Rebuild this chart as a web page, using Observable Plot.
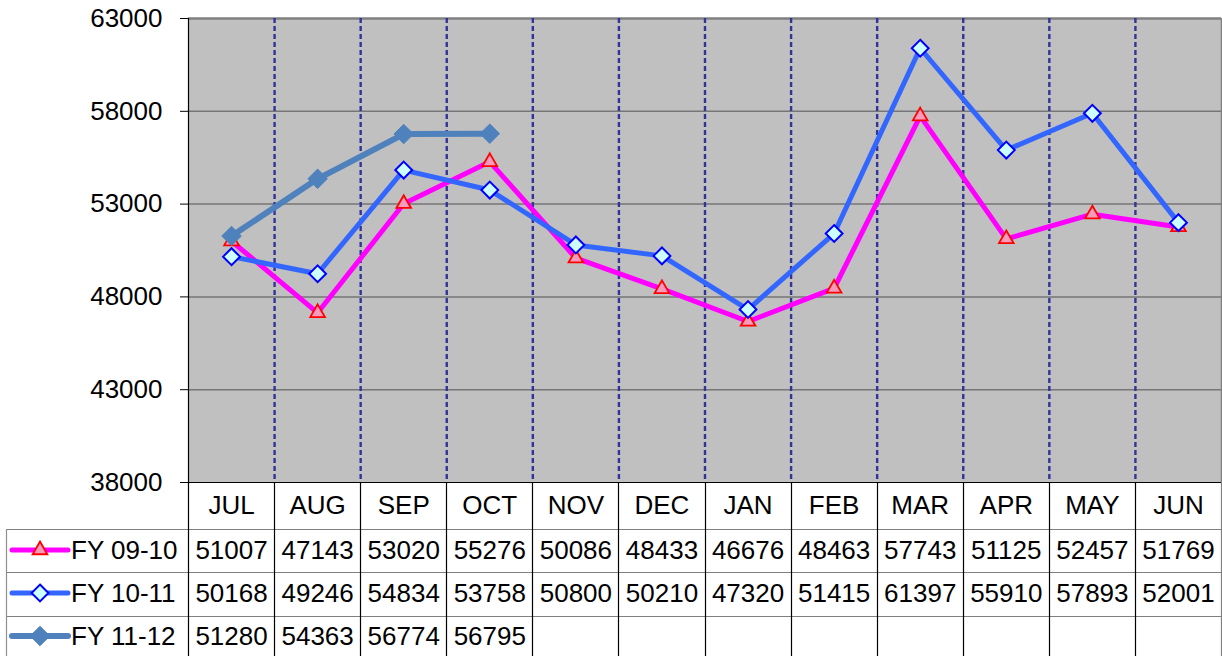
<!DOCTYPE html>
<html>
<head>
<meta charset="utf-8">
<script src="https://cdn.jsdelivr.net/npm/d3@7"></script>
<script src="https://cdn.jsdelivr.net/npm/@observablehq/plot@0.6"></script>
<style>
  html, body { margin: 0; padding: 0; background: white; }
  svg { display: block; }
</style>
</head>
<body>
<div id="chart"></div>
<script>
const months = ["JUL","AUG","SEP","OCT","NOV","DEC","JAN","FEB","MAR","APR","MAY","JUN"];
const seriesNames = ["FY 09-10", "FY 10-11", "FY 11-12"];
const fy0910 = [51007, 47143, 53020, 55276, 50086, 48433, 46676, 48463, 57743, 51125, 52457, 51769];
const fy1011 = [50168, 49246, 54834, 53758, 50800, 50210, 47320, 51415, 61397, 55910, 57893, 52001];
const fy1112 = [51280, 54363, 56774, 56795];
const yTicks = [38000, 43000, 48000, 53000, 58000, 63000];

const FONT = "'Liberation Sans', Arial, sans-serif";
const FS = 26;

const styles = [
  {line: "#FF00FF", width: 5, symbol: "triangle2", r: 7, fill: "#F79ABB", stroke: "#FF0000", sw: 1.8},
  {line: "#3366FF", width: 5, symbol: "diamond2", r: 7.6, fill: "#CCFFFF", stroke: "#0000FF", sw: 2},
  {line: "#4F81BD", width: 6, symbol: "diamond2", r: 8.8, fill: "#4F81BD", stroke: "#4F81BD", sw: 1}
];
const allSeries = [fy0910, fy1011, fy1112];

const headerDy = 23;
const rowDy = [68, 111, 154];

const marks = [
  Plot.frame({fill: "#C0C0C0", stroke: null}),
  Plot.ruleY(yTicks.slice(1, -1), {stroke: "#767676", strokeWidth: 1.5}),
  Plot.ruleY([yTicks[yTicks.length - 1]], {stroke: "#808080", strokeWidth: 2.5}),
  Plot.ruleX(d3.range(months.length - 1), {x: i => i + 0.5, stroke: "#333399", strokeWidth: 2.4, strokeDasharray: "5,3"}),
  Plot.ruleX([0], {x: () => -0.5, stroke: "#000", strokeWidth: 1.2}),
  Plot.ruleX([0], {x: () => months.length - 0.5, stroke: "#808080", strokeWidth: 1.5}),
  Plot.axisY(yTicks, {tickSize: 8, tickPadding: 18, tickFormat: d => String(d), fontSize: FS, stroke: "#000"}),
  Plot.text(months, {x: (d, i) => i, text: d => d, frameAnchor: "bottom", lineAnchor: "middle", dy: headerDy, fontSize: FS, fill: "#000"})
];

allSeries.forEach((vals, s) => {
  const st = styles[s];
  marks.push(Plot.line(vals, {x: (d, i) => i, y: d => d, stroke: st.line, strokeWidth: st.width, strokeLinejoin: "round"}));
  marks.push(Plot.dot(vals, {x: (d, i) => i, y: d => d, symbol: st.symbol, r: st.r, fill: st.fill, stroke: st.stroke, strokeWidth: st.sw}));
  marks.push(Plot.text(vals, {x: (d, i) => i, text: d => String(d), frameAnchor: "bottom", lineAnchor: "middle", dy: rowDy[s], fontSize: FS, fill: "#000"}));
});

marks.push(Plot.ruleY([yTicks[0]], {stroke: "#000", strokeWidth: 1.2}));

const plot = Plot.plot({
  width: 1222,
  height: 656,
  marginLeft: 188,
  marginRight: 1,
  marginTop: 18,
  marginBottom: 174,
  style: {fontFamily: FONT, fontSize: FS + "px", background: "white", overflow: "visible"},
  x: {type: "linear", domain: [-0.5, months.length - 0.5], axis: null},
  y: {domain: [yTicks[0], yTicks[yTicks.length - 1]], axis: null},
  marks
});

document.getElementById("chart").appendChild(plot);

// Data table grid and legend keys, positioned with Plot's x scale
const xs = plot.scale("x");
const X = v => xs.apply(v);
const svg = d3.select(plot);
const g = svg.append("g").attr("text-anchor", "start");
const plotBottom = 656 - 174;
const headerBottom = plotBottom + 47;
const rowH = 43.3;
const tableLeft = 6;
const tableRight = X(months.length - 0.5);
const tableBottom = 656;

// horizontal row separators
for (let r = 0; r < 3; r++) {
  const yy = Math.round(headerBottom + r * rowH) + 0.5;
  g.append("line").attr("x1", tableLeft).attr("x2", tableRight).attr("y1", yy).attr("y2", yy)
    .attr("stroke", "#808080").attr("stroke-width", 1.2);
}
// vertical column lines
for (let i = 0; i <= months.length; i++) {
  const xx = Math.round(X(i - 0.5)) + 0.5;
  g.append("line").attr("x1", xx).attr("x2", xx).attr("y1", plotBottom).attr("y2", tableBottom)
    .attr("stroke", i === months.length ? "#808080" : "#000").attr("stroke-width", 1.2);
}
// left border of label column
g.append("line").attr("x1", tableLeft + 0.5).attr("x2", tableLeft + 0.5).attr("y1", headerBottom).attr("y2", tableBottom)
  .attr("stroke", "#909090").attr("stroke-width", 1.2);

// legend keys
seriesNames.forEach((name, s) => {
  const st = styles[s];
  const cy = plotBottom + rowDy[s];
  g.append("line").attr("x1", 12).attr("x2", 68).attr("y1", cy).attr("y2", cy)
    .attr("stroke", st.line).attr("stroke-width", st.width).attr("stroke-linecap", "round");
  const sym = st.symbol === "triangle2" ? d3.symbolTriangle2 : d3.symbolDiamond2;
  g.append("path").attr("d", d3.symbol(sym, Math.PI * st.r * st.r)())
    .attr("transform", `translate(40,${cy})`)
    .attr("fill", st.fill).attr("stroke", st.stroke).attr("stroke-width", st.sw);
  g.append("text").attr("x", 71).attr("y", cy).attr("dy", "0.35em")
    .attr("font-size", FS).attr("font-family", FONT).attr("fill", "#000").text(name);
});
</script>
</body>
</html>
